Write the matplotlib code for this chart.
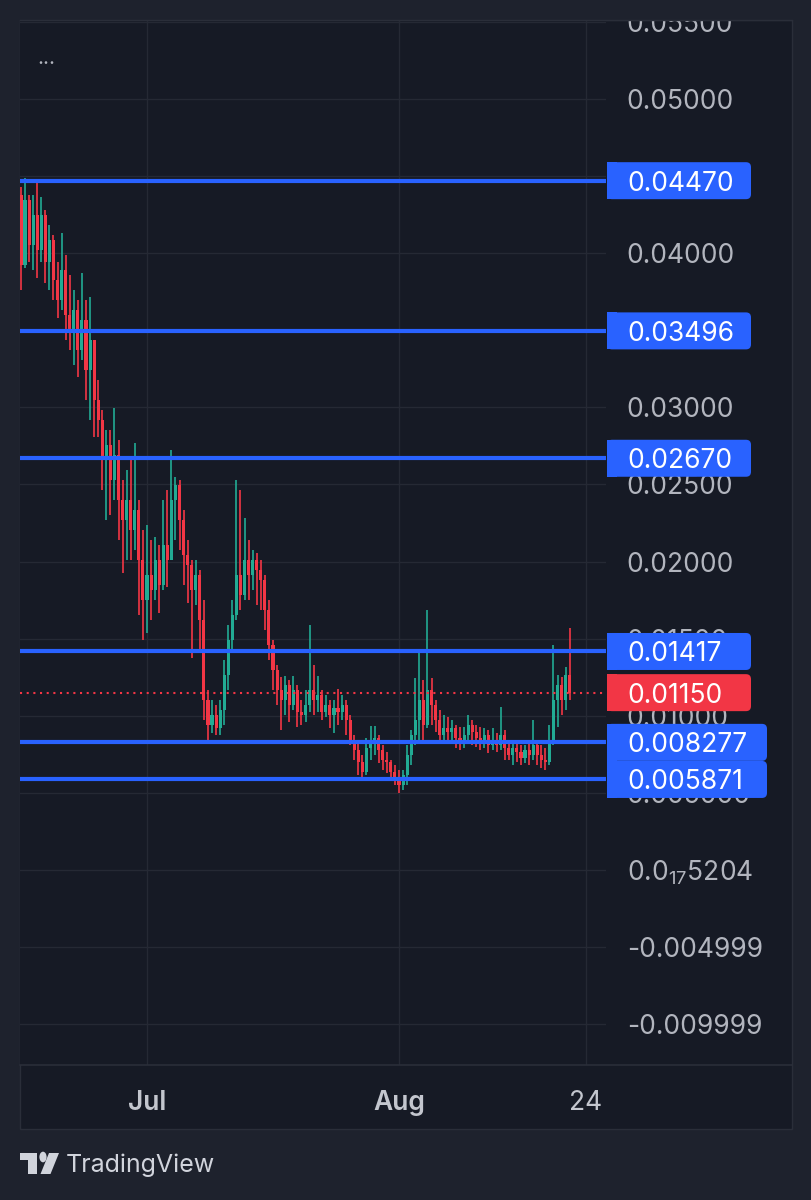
import matplotlib
matplotlib.use("Agg")
import matplotlib.pyplot as plt
import matplotlib.dates as mdates
import matplotlib.transforms as mtransforms
from matplotlib.patches import Rectangle, FancyBboxPatch, Circle, Polygon
from matplotlib.lines import Line2D
import pandas as pd
import numpy as np

plt.rcParams['font.family'] = ['Inter', 'DejaVu Sans']
plt.rcParams['mathtext.fontset'] = 'custom'
plt.rcParams['mathtext.rm'] = 'Inter'
plt.rcParams['mathtext.it'] = 'Inter'

# ---------------- data (12h candles) ----------------
start_time = "2024-06-15 12:00"
first_open = 0.04377
closes = [0.03923, 0.04345, 0.04053, 0.04248, 0.04021, 0.04248, 0.03943, 0.04086, 0.03826, 0.03696,
          0.03891, 0.03599, 0.03502, 0.03632, 0.03372, 0.03567, 0.03243, 0.03437, 0.03048, 0.02918,
          0.02659, 0.02756, 0.02529, 0.02691, 0.02399, 0.02270, 0.02399, 0.02205, 0.02335, 0.02010,
          0.01751, 0.01913, 0.01816, 0.02010, 0.01848, 0.02108, 0.02010, 0.02399, 0.02497, 0.02270,
          0.02043, 0.01978, 0.01816, 0.01913, 0.01621, 0.01102, 0.00940, 0.01005, 0.00921, 0.01038,
          0.01265, 0.01492, 0.01654, 0.01913, 0.01783, 0.02010, 0.01913, 0.02010, 0.01946, 0.01881,
          0.01686, 0.01459, 0.01297, 0.01167, 0.01102, 0.01200, 0.01070, 0.01167, 0.01025, 0.01005,
          0.01070, 0.01167, 0.01102, 0.01135, 0.01025, 0.01070, 0.01005, 0.01051, 0.01025, 0.01070,
          0.00973, 0.00843, 0.00778, 0.00700, 0.00636, 0.00791, 0.00843, 0.00856, 0.00778, 0.00713,
          0.00700, 0.00636, 0.00597, 0.00551, 0.00616, 0.00746, 0.00875, 0.00973, 0.01102, 0.00940,
          0.01167, 0.01070, 0.00973, 0.00875, 0.00921, 0.00895, 0.00921, 0.00856, 0.00830, 0.00875,
          0.00940, 0.00895, 0.00856, 0.00843, 0.00875, 0.00811, 0.00843, 0.00811, 0.00875, 0.00791,
          0.00746, 0.00791, 0.00765, 0.00726, 0.00778, 0.00746, 0.00811, 0.00746, 0.00713, 0.00700,
          0.00843, 0.01102, 0.01200, 0.01102, 0.01265, 0.01150]
highs = [0.04429, 0.04490, 0.04377, 0.04377, 0.04455, 0.04364, 0.04280, 0.04183, 0.04118, 0.03943,
         0.04131, 0.03988, 0.03859, 0.03761, 0.03696, 0.03872, 0.03696, 0.03716, 0.03437, 0.03178,
         0.02983, 0.02853, 0.02853, 0.02996, 0.02789, 0.02529, 0.02594, 0.02659, 0.02769, 0.02399,
         0.02205, 0.02237, 0.02140, 0.02160, 0.02108, 0.02399, 0.02464, 0.02724, 0.02549, 0.02529,
         0.02335, 0.02140, 0.02010, 0.02010, 0.01946, 0.01751, 0.01167, 0.01102, 0.01070, 0.01102,
         0.01362, 0.01589, 0.01751, 0.02529, 0.02464, 0.02283, 0.02140, 0.02075, 0.02056, 0.02010,
         0.01913, 0.01751, 0.01492, 0.01329, 0.01252, 0.01258, 0.01232, 0.01258, 0.01200, 0.01102,
         0.01167, 0.01589, 0.01329, 0.01258, 0.01167, 0.01135, 0.01102, 0.01102, 0.01174, 0.01135,
         0.01102, 0.01005, 0.00875, 0.00843, 0.00746, 0.00856, 0.00934, 0.00934, 0.00875, 0.00811,
         0.00765, 0.00713, 0.00681, 0.00649, 0.00649, 0.00811, 0.00908, 0.01245, 0.01414, 0.01232,
         0.01686, 0.01245, 0.01102, 0.01038, 0.01005, 0.00992, 0.00973, 0.00940, 0.00927, 0.00927,
         0.01005, 0.00973, 0.00940, 0.00927, 0.00921, 0.00908, 0.00921, 0.00888, 0.01057, 0.00908,
         0.00843, 0.00824, 0.00843, 0.00811, 0.00811, 0.00824, 0.00973, 0.00843, 0.00811, 0.00791,
         0.00940, 0.01459, 0.01265, 0.01252, 0.01316, 0.01569]
lows = [0.03761, 0.03904, 0.03943, 0.03891, 0.03839, 0.03943, 0.03807, 0.03761, 0.03696, 0.03580,
        0.03632, 0.03437, 0.03372, 0.03275, 0.03197, 0.03307, 0.03048, 0.02918, 0.02808, 0.02808,
        0.02464, 0.02270, 0.02302, 0.02399, 0.02140, 0.01926, 0.02010, 0.02010, 0.02075, 0.01654,
        0.01492, 0.01537, 0.01621, 0.01751, 0.01667, 0.01816, 0.01835, 0.02108, 0.02140, 0.02075,
        0.01848, 0.01732, 0.01375, 0.01719, 0.01427, 0.00973, 0.00843, 0.00888, 0.00875, 0.00875,
        0.00940, 0.01167, 0.01427, 0.01621, 0.01686, 0.01751, 0.01751, 0.01816, 0.01719, 0.01686,
        0.01556, 0.01362, 0.01167, 0.01070, 0.00908, 0.01005, 0.00960, 0.01038, 0.00927, 0.00940,
        0.00960, 0.01025, 0.01005, 0.01025, 0.00973, 0.00992, 0.00921, 0.00888, 0.00940, 0.00973,
        0.00875, 0.00811, 0.00713, 0.00616, 0.00603, 0.00616, 0.00713, 0.00746, 0.00694, 0.00649,
        0.00629, 0.00584, 0.00551, 0.00499, 0.00519, 0.00551, 0.00681, 0.00811, 0.00843, 0.00843,
        0.00921, 0.00940, 0.00895, 0.00824, 0.00843, 0.00824, 0.00843, 0.00791, 0.00778, 0.00791,
        0.00830, 0.00811, 0.00798, 0.00778, 0.00791, 0.00759, 0.00778, 0.00765, 0.00778, 0.00713,
        0.00713, 0.00681, 0.00700, 0.00681, 0.00694, 0.00681, 0.00713, 0.00681, 0.00661, 0.00649,
        0.00681, 0.00811, 0.00927, 0.01005, 0.01038, 0.01102]

level_values = [0.04470, 0.03496, 0.02670, 0.01417, 0.008277, 0.005871]
level_labels = ["0.04470", "0.03496", "0.02670", "0.01417", "0.008277", "0.005871"]
last_price = 0.01150
last_label = "0.01150"

ytick_values = [0.055, 0.050, 0.045, 0.040, 0.035, 0.030, 0.025, 0.020, 0.015, 0.010, 0.005,
                0.0, -0.005, -0.010]
ytick_labels = ["0.05500", "0.05000", "0.04500", "0.04000", "0.03500", "0.03000", "0.02500",
                "0.02000", "0.01500", "0.01000", "0.005000", r"0.0$_{17}$5204", "-0.004999",
                "-0.009999"]
xtick_dates = ["2024-07-01", "2024-08-01", "2024-08-24"]
xtick_labels = ["Jul", "Aug", "24"]

# ---------------- styling ----------------
W, H = 812, 1200
BG_OUT = "#1e222d"
BG_PANEL = "#161a25"
GRID = "#252934"
BORDER = "#2a2e39"
UP = "#22ab94"
DOWN = "#f23645"
BLUE = "#2962ff"
TXT = "#b2b5be"

fig = plt.figure(figsize=(W / 100, H / 100), dpi=100, facecolor=BG_OUT)


def fx(px):
    return px / W


def fy(py):
    return 1 - py / H


# panel
fig.add_artist(Rectangle((fx(20), fy(1129)), fx(772), 1109 / H, transform=fig.transFigure,
                         facecolor=BG_PANEL, edgecolor=BORDER, lw=1, zorder=-5))

ax = fig.add_axes([fx(20), fy(1065), 586 / W, 1045 / H])
ax.set_facecolor(BG_PANEL)
for s in ax.spines.values():
    s.set_visible(False)

times = pd.date_range(start_time, periods=len(closes), freq="12h")
xs = mdates.date2num(times.to_pydatetime())
opens = [first_open] + closes[:-1]
colors = [UP if c >= o else DOWN for o, c in zip(opens, closes)]
lo = [min(l, o, c) for l, o, c in zip(lows, opens, closes)]
hi = [max(h, o, c) for h, o, c in zip(highs, opens, closes)]
ax.vlines(xs, lo, hi, colors=colors, lw=1.2, zorder=3)
bottoms = [min(o, c) for o, c in zip(opens, closes)]
heights = [max(abs(c - o), 0.00008) for o, c in zip(opens, closes)]
ax.bar(xs, heights, bottom=bottoms, width=0.38, color=colors, linewidth=0, zorder=3)

jul1 = mdates.date2num(pd.Timestamp("2024-07-01").to_pydatetime())
ax.set_xlim(jul1 - 15.62, jul1 + 56.46)
ax.set_ylim(-0.012646, 0.05512)

# grid & ticks
ax.set_yticks(ytick_values)
ax.set_yticklabels(ytick_labels)
xt = [mdates.date2num(pd.Timestamp(d).to_pydatetime()) for d in xtick_dates]
ax.set_xticks(xt)
ax.set_xticklabels(xtick_labels)
ax.grid(True, color=GRID, lw=1, zorder=0)
ax.set_axisbelow(True)
ax.yaxis.tick_right()
ax.tick_params(axis="y", length=0, pad=15, labelsize=19, labelcolor=TXT)
ax.tick_params(axis="x", length=0, pad=18, labelsize=19, labelcolor="#c3c6ce")
for lab in ax.get_xticklabels():
    if lab.get_text() in ("Jul", "Aug"):
        lab.set_fontweight("semibold")

# horizontal levels
for v in level_values:
    ax.axhline(v, color=BLUE, lw=3, zorder=4)
ax.axhline(last_price, color=DOWN, lw=1.5, linestyle=(0, (1, 2.2)), zorder=4)

# price label boxes (pixel based geometry)
ident = mtransforms.IdentityTransform()
blend = mtransforms.blended_transform_factory(ax.transAxes, ax.transData)


def price_box(value, text, color):
    x0, yc = blend.transform((1.0, value))
    x0 += 1
    w = 160 if len(text) > 7 else 144
    h = 37
    y0 = yc - h / 2
    fig.add_artist(FancyBboxPatch((x0, y0), w, h, boxstyle="round,pad=0,rounding_size=5",
                                  transform=ident, facecolor=color, edgecolor="none", zorder=6))
    fig.add_artist(Rectangle((x0, y0), 10, h, transform=ident, facecolor=color,
                             edgecolor="none", zorder=6))
    fig.text(x0 + 20, yc, text, transform=ident, color="white", fontsize=19,
             ha="left", va="center_baseline", zorder=7)


for v, t in zip(level_values, level_labels):
    if v not in (0.008277, 0.005871):
        price_box(v, t, BLUE)
price_box(last_price, last_label, DOWN)
price_box(0.008277, "0.008277", BLUE)
price_box(0.005871, "0.005871", BLUE)

# cover above the panel top (clips the top tick label)
fig.add_artist(Rectangle((0, fy(19.5)), 1, 19.5 / H, transform=fig.transFigure,
                         facecolor=BG_OUT, edgecolor="none", zorder=20))
fig.add_artist(Line2D([fx(20), fx(792)], [fy(20), fy(20)], transform=fig.transFigure,
                      color=BORDER, lw=1, zorder=21))
# time axis separator
fig.add_artist(Line2D([fx(20), fx(792)], [fy(1065), fy(1065)], transform=fig.transFigure,
                      color=BORDER, lw=1.2, zorder=21))

# legend dots
fig.text(fx(46), fy(58), "...", color=TXT, fontsize=15, ha="center", va="center")

# TradingView logo
icol = "#d1d4dc"
fig.add_artist(Rectangle((fx(20), fy(1160)), fx(17), 7 / H, transform=fig.transFigure,
                         facecolor=icol, edgecolor="none"))
fig.add_artist(Rectangle((fx(28.5), fy(1174)), fx(8.5), 21 / H, transform=fig.transFigure,
                         facecolor=icol, edgecolor="none"))
fig.add_artist(Circle((fx(43), fy(1157)), 3.6 / W, transform=fig.transFigure,
                      facecolor=icol, edgecolor="none"))
fig.add_artist(Polygon([(fx(49), fy(1153)), (fx(59), fy(1153)), (fx(50.5), fy(1174)),
                        (fx(40.5), fy(1174))], closed=True, transform=fig.transFigure,
                       facecolor=icol, edgecolor="none"))
fig.text(fx(66), fy(1163), "TradingView", color=icol, fontsize=18, ha="left",
         va="center_baseline")

fig.savefig("out.png", dpi=100, facecolor=BG_OUT)
